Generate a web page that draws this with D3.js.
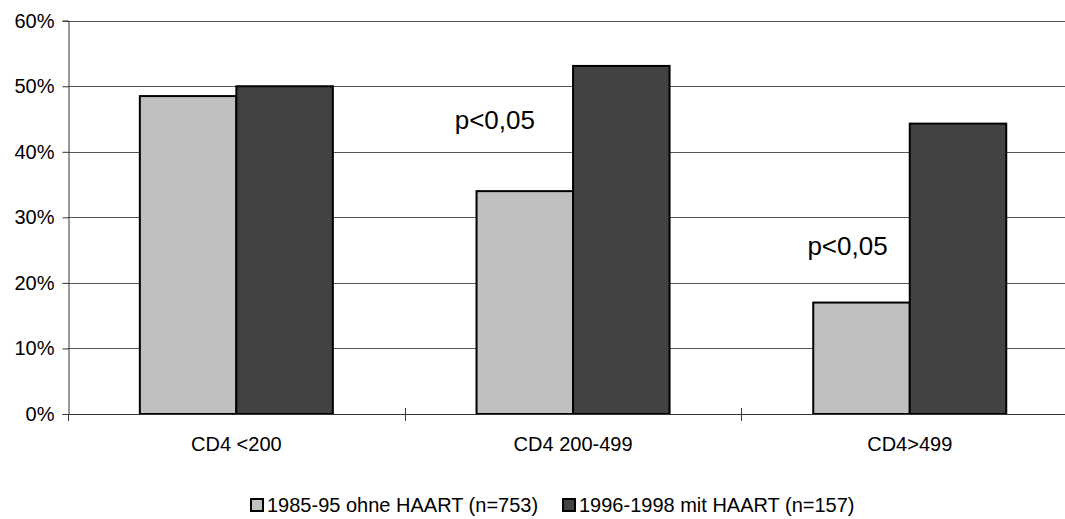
<!DOCTYPE html>
<html>
<head>
<meta charset="utf-8">
<script src="https://cdn.jsdelivr.net/npm/d3@7"></script>
<style>
  html, body { margin: 0; padding: 0; background: #fff; }
  svg { display: block; font-family: "Liberation Sans", Arial, sans-serif; }
</style>
</head>
<body>
<svg id="chart" width="1065" height="519"></svg>
<script>
// CD4 groups and share per cohort (fraction)
const categories = ["CD4 <200", "CD4 200-499", "CD4>499"];
const seriesNames = ["1985-95 ohne HAART (n=753)", "1996-1998 mit HAART (n=157)"];
const valuesOhne = [0.485, 0.340, 0.170];
const valuesMit = [0.500, 0.531, 0.443];
const yTicks = [0, 0.1, 0.2, 0.3, 0.4, 0.5, 0.6];
const annotationCategories = ["CD4 200-499", "CD4>499"];
const annotationLabels = ["p<0,05", "p<0,05"];
const annotationLevels = [0.435, 0.243];
const colors = ["#c0c0c0", "#424242"];

const svg = d3.select("#chart");
const plotLeft = 68, plotTop = 20.7, plotBottom = 414, bandW = 336.7;
const fontSize = 20;
const annotationOffsets = [50, 66];

const x = d3.scaleBand().domain(categories).range([plotLeft, plotLeft + bandW * categories.length]).paddingInner(0).paddingOuter(0);
const y = d3.scaleLinear().domain([0, 0.6]).range([plotBottom, plotTop]);
const inner = d3.scaleBand().domain(seriesNames).range([0, bandW]).paddingInner(0).paddingOuter(0.7445);

// horizontal gridlines
svg.append("g").selectAll("line").data(yTicks.slice(1)).join("line")
  .attr("x1", plotLeft).attr("x2", plotLeft + bandW * 3)
  .attr("y1", d => Math.round(y(d)) + 0.5).attr("y2", d => Math.round(y(d)) + 0.5)
  .attr("stroke", "#555").attr("stroke-width", 1);

// bars
const series = [valuesOhne, valuesMit];
series.forEach((vals, si) => {
  svg.append("g").selectAll("rect").data(categories).join("rect")
    .attr("x", c => x(c) + inner(seriesNames[si]))
    .attr("y", (c, i) => y(vals[i]))
    .attr("width", inner.bandwidth())
    .attr("height", (c, i) => plotBottom - y(vals[i]))
    .attr("fill", colors[si])
    .attr("stroke", "#000").attr("stroke-width", 2);
});

// y axis
const yAxis = d3.axisLeft(y).tickValues(yTicks).tickFormat(d3.format(".0%")).tickSize(6).tickPadding(8);
const gy = svg.append("g").attr("transform", `translate(${plotLeft + 0.5},0)`).call(yAxis);
gy.select(".domain").attr("stroke", "#333");
gy.selectAll(".tick line").attr("stroke", "#333");
gy.selectAll(".tick text").attr("font-size", fontSize).attr("fill", "#000").attr("font-family", "Liberation Sans, Arial, sans-serif");

// x axis line with cross ticks at category boundaries
svg.append("line").attr("x1", plotLeft).attr("x2", plotLeft + bandW * 3)
  .attr("y1", plotBottom + 0.5).attr("y2", plotBottom + 0.5).attr("stroke", "#333");
const bounds = d3.range(categories.length + 1).map(i => plotLeft + i * bandW);
svg.append("g").selectAll("line").data(bounds).join("line")
  .attr("x1", d => Math.round(d) + 0.5).attr("x2", d => Math.round(d) + 0.5)
  .attr("y1", (d, i) => i === 0 ? plotBottom : plotBottom - 6).attr("y2", plotBottom + 7)
  .attr("stroke", "#333");

// category labels
svg.append("g").selectAll("text").data(categories).join("text")
  .attr("x", c => x(c) + bandW / 2).attr("y", 450.5)
  .attr("text-anchor", "middle").attr("font-size", fontSize).text(c => c);

// significance labels
svg.append("g").selectAll("text").data(annotationCategories).join("text")
  .attr("x", (c, i) => x(c) + annotationOffsets[i]).attr("y", (c, i) => y(annotationLevels[i]))
  .attr("font-size", 26).text((c, i) => annotationLabels[i]);

// legend
const legend = svg.append("g");
const lx = [250, 562];
seriesNames.forEach((name, i) => {
  legend.append("rect").attr("x", lx[i] + 1).attr("y", 499).attr("width", 12).attr("height", 12)
    .attr("fill", colors[i]).attr("stroke", "#000").attr("stroke-width", 2);
  legend.append("text").attr("x", lx[i] + 17).attr("y", 512).attr("font-size", fontSize).text(name);
});
</script>
</body>
</html>
